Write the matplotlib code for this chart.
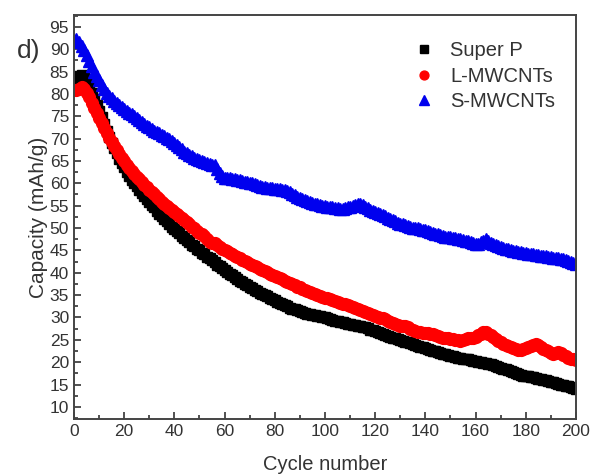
import matplotlib
matplotlib.use("Agg")
import matplotlib.pyplot as plt
from matplotlib.ticker import MultipleLocator

plt.rcParams['font.family'] = ['Liberation Sans', 'DejaVu Sans']

# cycles 1..200, capacity (mAh/g), 10 values per row
cycles = list(range(1, 201))

super_p = [83.2, 84.0, 84.2, 83.5, 82.6, 81.5, 80.2, 78.9, 77.6, 76.2,
           74.8, 73.2, 71.6, 70.3, 69.0, 67.8, 66.7, 65.5, 64.6, 63.6,
           62.6, 61.6, 60.8, 60.0, 59.3, 58.5, 57.9, 57.1, 56.5, 55.9,
           55.2, 54.6, 53.9, 53.2, 52.6, 52.0, 51.5, 50.9, 50.3, 49.8,
           49.3, 48.8, 48.2, 47.8, 47.3, 46.8, 46.3, 45.9, 45.4, 45.0,
           44.5, 44.1, 43.6, 43.2, 42.8, 42.3, 41.8, 41.4, 41.0, 40.6,
           40.2, 39.8, 39.4, 39.0, 38.6, 38.2, 37.9, 37.5, 37.2, 36.8,
           36.5, 36.2, 35.9, 35.5, 35.2, 35.0, 34.7, 34.4, 34.1, 33.8,
           33.5, 33.2, 33.0, 32.7, 32.5, 32.2, 32.0, 31.8, 31.6, 31.4,
           31.2, 31.0, 30.8, 30.7, 30.6, 30.5, 30.4, 30.3, 30.2, 30.0,
           29.8, 29.6, 29.5, 29.3, 29.2, 29.0, 28.9, 28.7, 28.6, 28.5,
           28.4, 28.3, 28.2, 28.0, 27.9, 27.8, 27.6, 27.3, 27.1, 26.9,
           26.7, 26.5, 26.3, 26.1, 25.9, 25.7, 25.5, 25.3, 25.1, 24.9,
           24.7, 24.5, 24.4, 24.2, 24.0, 23.9, 23.7, 23.5, 23.3, 23.2,
           23.0, 22.8, 22.6, 22.5, 22.3, 22.1, 21.9, 21.8, 21.6, 21.4,
           21.3, 21.2, 21.0, 20.9, 20.8, 20.7, 20.6, 20.5, 20.3, 20.2,
           20.1, 20.0, 19.9, 19.8, 19.6, 19.5, 19.3, 19.1, 18.9, 18.7,
           18.5, 18.4, 18.2, 18.0, 17.8, 17.6, 17.4, 17.2, 17.0, 16.9,
           16.8, 16.7, 16.6, 16.5, 16.3, 16.2, 16.0, 15.9, 15.8, 15.6,
           15.5, 15.3, 15.2, 15.0, 14.9, 14.7, 14.6, 14.4, 14.3, 14.1]

l_mwcnt = [80.8, 81.2, 81.5, 81.0, 80.2, 79.2, 78.0, 76.9, 75.8, 74.6,
           73.6, 72.4, 71.2, 70.2, 69.2, 68.3, 67.4, 66.6, 65.7, 64.9,
           64.2, 63.5, 62.8, 62.1, 61.5, 60.9, 60.3, 59.7, 59.1, 58.6,
           58.0, 57.5, 57.0, 56.4, 55.9, 55.4, 54.9, 54.5, 54.0, 53.6,
           53.1, 52.6, 52.2, 51.7, 51.3, 50.8, 50.3, 49.9, 49.4, 49.0,
           48.6, 48.2, 47.6, 46.9, 46.6, 46.7, 46.2, 45.8, 45.4, 45.1,
           44.8, 44.5, 44.1, 43.8, 43.5, 43.2, 42.9, 42.6, 42.3, 42.0,
           41.7, 41.4, 41.2, 40.9, 40.6, 40.4, 40.1, 39.8, 39.6, 39.3,
           39.0, 38.8, 38.5, 38.2, 38.0, 37.7, 37.5, 37.2, 36.9, 36.7,
           36.4, 36.2, 35.9, 35.6, 35.4, 35.2, 35.0, 34.8, 34.6, 34.4,
           34.3, 34.1, 33.9, 33.7, 33.5, 33.3, 33.1, 32.9, 32.7, 32.5,
           32.3, 32.1, 31.9, 31.6, 31.4, 31.2, 31.0, 30.8, 30.5, 30.3,
           30.1, 29.9, 29.8, 29.6, 29.2, 28.9, 28.8, 28.6, 28.3, 28.2,
           28.2, 28.0, 27.8, 27.5, 27.2, 26.9, 26.8, 26.7, 26.6, 26.5,
           26.5, 26.4, 26.3, 26.1, 25.9, 25.7, 25.5, 25.4, 25.3, 25.2,
           25.1, 25.0, 24.9, 24.8, 24.9, 25.2, 25.4, 25.5, 25.4, 25.6,
           26.0, 26.4, 26.8, 26.7, 26.4, 26.0, 25.6, 25.2, 24.8, 24.4,
           24.1, 23.9, 23.7, 23.5, 23.2, 22.9, 22.8, 22.8, 22.9, 23.1,
           23.3, 23.6, 23.9, 24.0, 23.8, 23.4, 23.0, 22.7, 22.4, 22.1,
           21.9, 22.1, 22.3, 22.0, 21.6, 21.3, 21.0, 20.8, 20.6, 20.4]

s_mwcnt = [92.2, 91.6, 90.8, 89.8, 88.6, 87.4, 86.2, 85.0, 84.0, 83.0,
           82.0, 81.0, 80.2, 79.6, 79.0, 78.5, 78.0, 77.5, 77.0, 76.6,
           76.2, 75.8, 75.4, 75.0, 74.6, 74.2, 73.8, 73.3, 72.9, 72.5,
           72.2, 71.8, 71.5, 71.2, 70.8, 70.5, 70.2, 69.8, 69.4, 69.0,
           68.6, 68.1, 67.6, 67.1, 66.7, 66.3, 66.0, 65.7, 65.4, 65.2,
           65.0, 64.8, 64.6, 64.4, 64.2, 64.0, 63.2, 62.2, 61.6, 61.3,
           61.2, 61.1, 61.0, 60.9, 60.8, 60.7, 60.6, 60.4, 60.3, 60.1,
           60.0, 59.8, 59.6, 59.4, 59.2, 59.1, 59.0, 58.9, 58.9, 58.8,
           58.8, 58.7, 58.6, 58.5, 58.3, 58.0, 57.6, 57.3, 57.0, 56.8,
           56.5, 56.2, 56.0, 55.8, 55.6, 55.4, 55.3, 55.1, 55.0, 54.9,
           54.8, 54.7, 54.6, 54.5, 54.4, 54.3, 54.3, 54.4, 54.6, 54.8,
           55.0, 55.2, 55.4, 55.3, 55.1, 54.8, 54.4, 54.0, 53.7, 53.5,
           53.3, 53.1, 52.9, 52.6, 52.3, 52.0, 51.7, 51.5, 51.2, 51.0,
           50.8, 50.6, 50.4, 50.2, 50.1, 50.0, 49.9, 49.8, 49.6, 49.5,
           49.3, 49.1, 48.9, 48.7, 48.6, 48.4, 48.3, 48.1, 48.0, 47.9,
           47.8, 47.7, 47.6, 47.5, 47.4, 47.2, 47.0, 46.8, 46.6, 46.5,
           46.5, 46.8, 47.2, 47.6, 47.0, 46.6, 46.4, 46.2, 46.0, 45.8,
           45.6, 45.4, 45.2, 45.0, 44.9, 44.8, 44.7, 44.6, 44.5, 44.4,
           44.3, 44.2, 44.1, 44.0, 43.9, 43.8, 43.8, 43.7, 43.6, 43.5,
           43.4, 43.3, 43.2, 43.1, 43.0, 42.8, 42.6, 42.4, 42.2, 42.0]

fig = plt.figure(figsize=(5.99, 4.75), dpi=100)
ax = fig.add_axes([0.1235, 0.118, 0.838, 0.850])

ax.plot(cycles, super_p, ls='none', marker='s', ms=7.5, color='black', label='Super P')
ax.plot(cycles, l_mwcnt, ls='none', marker='o', ms=8.5, color='#ff0000', label='L-MWCNTs')
ax.plot(cycles, s_mwcnt, ls='none', marker='^', ms=9, color='#0000ee', label='S-MWCNTs')

ax.set_xlim(0, 200)
ax.set_ylim(7.3, 97.6)
ax.xaxis.set_major_locator(MultipleLocator(20))
ax.xaxis.set_minor_locator(MultipleLocator(10))
ax.yaxis.set_minor_locator(MultipleLocator(2.5))
ax.set_yticks(range(10, 96, 5))
ax.tick_params(which='both', direction='in', top=False, right=False,
               colors='#333333', labelsize=12.5, width=1.2)
ax.tick_params(which='major', length=5)
ax.tick_params(which='minor', length=3)
for s in ax.spines.values():
    s.set_color('#444444')
    s.set_linewidth(1.4)

ax.set_xlabel('Cycle number', fontsize=14.5, color='#333333', labelpad=12)
ax.set_ylabel('Capacity (mAh/g)', fontsize=15, color='#333333', labelpad=1)

fig.text(0.028, 0.878, 'd)', fontsize=19, color='#333333')

leg = ax.legend(loc='upper right', bbox_to_anchor=(0.995, 0.98), frameon=False,
                fontsize=14.5, handletextpad=0.7, labelspacing=0.32,
                markerscale=0.75, handlelength=1.2)
for t in leg.get_texts():
    t.set_color('#333333')

fig.savefig('out.png', dpi=100)
